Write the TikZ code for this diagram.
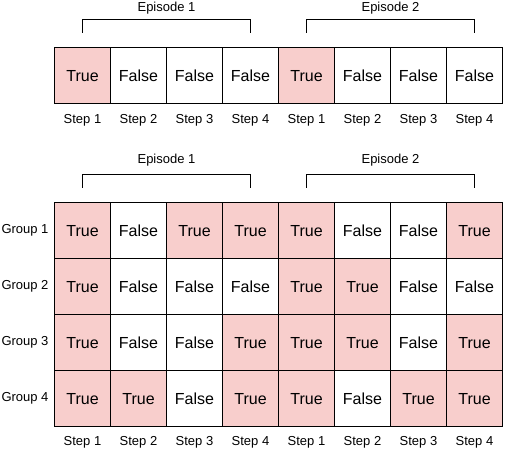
\documentclass[tikz,border=0pt]{standalone}
\usepackage{fontspec}
\setmainfont{Liberation Sans}
\usetikzlibrary{positioning,calc}
\definecolor{Ink}{HTML}{000000}
\definecolor{SoftRed}{HTML}{F8CECC}

\tikzset{
  cellbox/.style={draw=Ink, line width=1pt, minimum width=56pt, minimum height=56pt, inner sep=0pt, text height=11.5pt, text depth=0pt, font=\fontsize{16}{16}\selectfont, anchor=north west},
  truecell/.style={cellbox, fill=SoftRed},
  falsecell/.style={cellbox, fill=white},
  steplabel/.style={font=\fontsize{13}{13}\selectfont, inner sep=0pt},
  bracket/.style={draw=Ink, line width=1pt}
}

\begin{document}
\begin{tikzpicture}[x=1pt, y=-1pt]
  \useasboundingbox (0,0) rectangle (507,451);
  % top row: one value per step
  \foreach \v [count=\i] in {T,F,F,F,T,F,F,F} {
    \if\v T
      \node[truecell] (top-\i) at ({54+56*(\i-1)},47) {True};
    \else
      \node[falsecell] (top-\i) at ({54+56*(\i-1)},47) {False};
    \fi
  }
  % grouped rows
  \foreach \row [count=\g] in {{T,F,T,T,T,F,F,T},{T,F,F,F,T,T,F,F},{T,F,F,T,T,T,F,T},{T,T,F,T,T,F,T,T}} {
    \foreach \v [count=\i] in \row {
      \if\v T
        \node[truecell] (g\g-\i) at ({54+56*(\i-1)},{202+56*(\g-1)}) {True};
      \else
        \node[falsecell] (g\g-\i) at ({54+56*(\i-1)},{202+56*(\g-1)}) {False};
      \fi
    }
    \node[steplabel] (grp-\g) at (25,{230+56*(\g-1)}) {Group \g};
  }
  % step labels
  \foreach \i [evaluate=\i as \s using {int(mod(\i-1,4)+1)}] in {1,...,8} {
    \node[steplabel, below=10pt of top-\i.south] (stop-\i) {Step \s};
    \node[steplabel, below=9pt of g4-\i.south] (sbot-\i) {Step \s};
  }
  % episode brackets
  \foreach \a/\b/\n in {1/4/1,5/8/2} {
    \draw[bracket] ($(top-\a.center)+(0,-43)$) -- ($(top-\a.center)+(0,-56)$) -- ($(top-\b.center)+(0,-56)$) -- ($(top-\b.center)+(0,-43)$);
    \node[steplabel] (eptop-\n) at ($($(top-\a.center)!0.5!(top-\b.center)$)+(0,-67)$) {Episode \n};
    \draw[bracket] ($(g1-\a.center)+(0,-43)$) -- ($(g1-\a.center)+(0,-56)$) -- ($(g1-\b.center)+(0,-56)$) -- ($(g1-\b.center)+(0,-43)$);
    \node[steplabel] (epbot-\n) at ($($(g1-\a.center)!0.5!(g1-\b.center)$)+(0,-70)$) {Episode \n};
  }
\end{tikzpicture}
\end{document}
